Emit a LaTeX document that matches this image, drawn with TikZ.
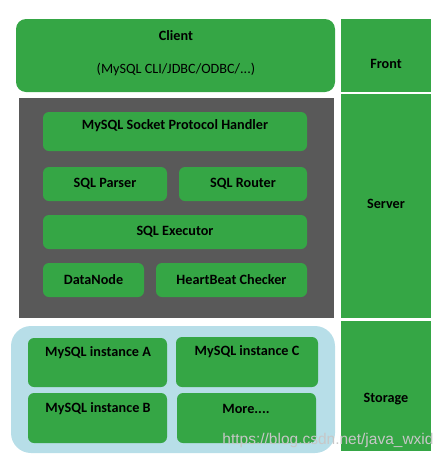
\documentclass[tikz,border=0pt]{standalone}
\usepackage{fontspec}
\setmainfont{Carlito}
\newfontfamily\markfont{Liberation Sans}
\usetikzlibrary{positioning}
\definecolor{boxgreen}{HTML}{35A645}
\definecolor{srvgray}{HTML}{595959}
\definecolor{storblue}{HTML}{B7DEE8}

\begin{document}
\begin{tikzpicture}[x=1pt, y=-1pt,
  tier/.style={fill=boxgreen, inner sep=0pt, minimum width=90pt,
               font=\bfseries\fontsize{14.2}{17}\selectfont},
  part/.style={fill=boxgreen, rounded corners=6pt, inner sep=0pt,
               font=\bfseries\fontsize{14.2}{17}\selectfont},
  title/.style={font=\bfseries\fontsize{14.2}{17}\selectfont, inner sep=0pt},
  every node/.style={anchor=center}
]
  \useasboundingbox (0,0) rectangle (445,464);

  % left side: layers
  \node[part, rounded corners=10pt, minimum width=319pt, minimum height=73pt] (client) at (175.5,55.5) {};
  \node[title] (clientname) at (176,36) {Client};
  \node[font=\fontsize{14.2}{17}\selectfont, inner sep=0pt] (clientsub) at (176,69) {(MySQL CLI/JDBC/ODBC/...)};

  \node[fill=srvgray, inner sep=0pt, minimum width=315pt, minimum height=220pt] (server) at (176.5,208) {};
  \node[part, minimum width=264pt, minimum height=39pt] (handler) at (175,131.5) {};
  \node[title] (handlername) at (175,126) {MySQL Socket Protocol Handler};
  \node[part, minimum width=124pt, minimum height=34pt] (parser) at (105,184) {SQL Parser};
  \node[part, minimum width=128pt, minimum height=34pt] (router) at (243,184) {SQL Router};
  \node[part, minimum width=264pt, minimum height=34pt] (executor) at (175,232) {SQL Executor};
  \node[part, minimum width=101pt, minimum height=34pt] (datanode) at (93.5,280) {DataNode};
  \node[part, minimum width=151pt, minimum height=34pt] (heartbeat) at (231.5,280) {HeartBeat Checker};

  \node[fill=storblue, rounded corners=20pt, inner sep=0pt, minimum width=324pt, minimum height=127pt] (storage) at (173,389.5) {};
  \node[part, minimum width=139pt, minimum height=49pt] (insta) at (97.5,362.5) {};
  \node[part, minimum width=142pt, minimum height=50pt] (instc) at (247,362) {};
  \node[part, minimum width=139pt, minimum height=50pt] (instb) at (97.5,418) {};
  \node[part, minimum width=139pt, minimum height=50pt] (more) at (246.5,418) {};
  \node[title] (instaname) at (98,353) {MySQL instance A};
  \node[title] (instcname) at (247,352) {MySQL instance C};
  \node[title] (instbname) at (98,409) {MySQL instance B};
  \node[title] (morename) at (246,409) {More....};

  % right side: tiers
  \node[tier, minimum height=73pt] (front) at (386,55.5) {};
  \node[title] (frontname) at (386,64) {Front};
  \node[tier, minimum height=224pt] (servertier) at (386,206) {};
  \node[title] (servername) at (386,204) {Server};
  \node[tier, minimum height=130pt] (storagetier) at (386,386) {};
  \node[title] (storagename) at (386,399) {Storage};

  \node[font=\markfont\fontsize{15.5}{18}\selectfont, text=black!22, inner sep=0pt] (mark) at (328,440) {https://blog.csdn.net/java\_wxid};
\end{tikzpicture}
\end{document}
